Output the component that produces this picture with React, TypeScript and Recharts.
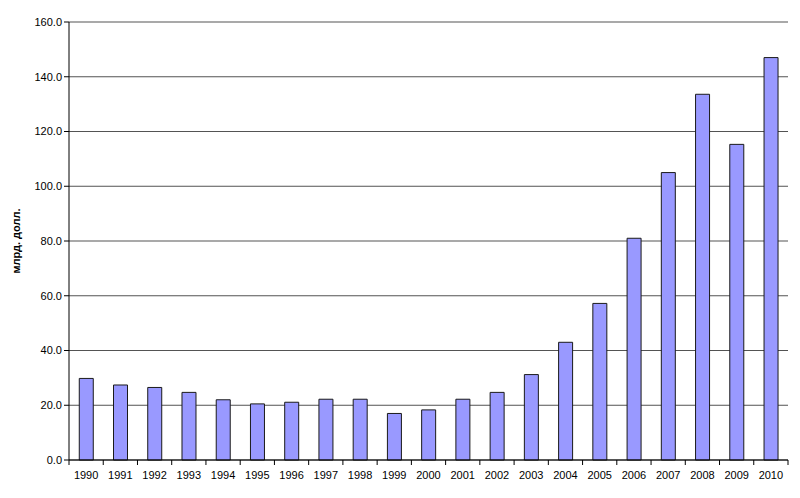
import React from 'react';
import { BarChart, Bar, XAxis, YAxis, CartesianGrid } from 'recharts';

const years = ['1990','1991','1992','1993','1994','1995','1996','1997','1998','1999','2000','2001','2002','2003','2004','2005','2006','2007','2008','2009','2010'];
const values = [29.8, 27.4, 26.5, 24.7, 22.0, 20.5, 21.1, 22.2, 22.2, 17.0, 18.3, 22.2, 24.7, 31.2, 43.0, 57.2, 81.0, 105.0, 133.6, 115.3, 147.0];
const yTicks = [0, 20, 40, 60, 80, 100, 120, 140, 160];
const yLabel = 'млрд. долл.';

const data = years.map((y, i) => ({ year: y, value: values[i] }));

const FONT = '"Liberation Sans", Arial, sans-serif';

const XTick = (props: any) => {
  const { x, y, payload, index } = props;
  const half = payload && payload.offset ? payload.offset : 17.1;
  const last = index === years.length - 1;
  return (
    <g>
      <line x1={x - half} x2={x - half} y1={y - 8} y2={y - 3} stroke="#000" />
      {last && <line x1={x + half} x2={x + half} y1={y - 8} y2={y - 3} stroke="#000" />}
      <text x={x} y={y + 11} textAnchor="middle" fontSize={11} fontFamily={FONT} fill="#000">
        {payload.value}
      </text>
    </g>
  );
};

export default function App() {
  return (
    <div style={{ position: 'absolute', left: 0, top: 0, width: 800, height: 498, background: '#fff' }}>
      <BarChart
        width={800}
        height={498}
        data={data}
        margin={{ top: 22, right: 12, bottom: 0, left: 0 }}
        barCategoryGap="30%"
      >
        <CartesianGrid vertical={false} stroke="#404040" strokeOpacity={0.9} />
        <XAxis
          dataKey="year"
          height={38}
          tickLine={false}
          axisLine={{ stroke: '#000' }}
          tick={<XTick />}
          interval={0}
        />
        <YAxis
          width={69}
          domain={[0, 160]}
          ticks={yTicks}
          interval={0}
          tickFormatter={(v: number) => v.toFixed(1)}
          tickSize={5}
          tickLine={{ stroke: '#000' }}
          axisLine={{ stroke: '#000' }}
          tick={{ fontSize: 11, fontFamily: FONT, fill: '#000' }}
          label={{
            value: yLabel,
            angle: -90,
            position: 'insideLeft',
            offset: 16,
            style: { textAnchor: 'middle', fontSize: 11, fontWeight: 'bold', fontFamily: FONT, fill: '#000' },
          }}
        />
        <Bar dataKey="value" fill="#9999FF" stroke="#1a1a1a" strokeWidth={1} isAnimationActive={false} />
      </BarChart>
    </div>
  );
}
